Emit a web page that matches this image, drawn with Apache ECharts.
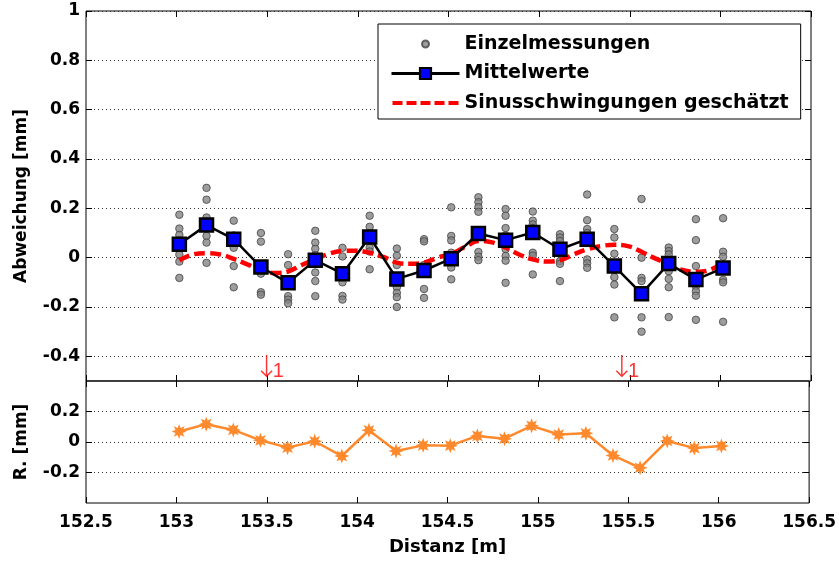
<!DOCTYPE html>
<html>
<head>
<meta charset="utf-8">
<script src="https://cdn.jsdelivr.net/npm/echarts@6/dist/echarts.min.js"></script>
<style>
  html, body { margin: 0; padding: 0; background: #fff; }
  #chart { width: 839px; height: 564px; }
</style>
</head>
<body>
<div id="chart"></div>
<script>
// Measuring stations along the track [m]
const positions = [153.015, 153.165, 153.315, 153.465, 153.615, 153.765, 153.915,
  154.065, 154.215, 154.365, 154.515, 154.665, 154.815, 154.965, 155.115, 155.265,
  155.415, 155.565, 155.715, 155.865, 156.015];

// Individual readings at each station [mm]
const singleReadings = [
  [0.174, 0.118, 0.092, 0.07, 0.013, -0.016, -0.082],
  [0.283, 0.235, 0.163, 0.13, 0.088, 0.061, -0.021],
  [0.150, 0.09, 0.04, -0.034, -0.12],
  [0.10, 0.065, -0.04, -0.065, -0.14, -0.15],
  [0.014, -0.03, -0.09, -0.156, -0.17, -0.185],
  [0.109, 0.061, 0.036, 0.01, -0.06, -0.095, -0.156],
  [0.04, 0.005, -0.065, -0.1, -0.155, -0.17],
  [0.17, 0.125, 0.09, 0.04, 0.025, -0.047],
  [0.037, 0.008, -0.03, -0.085, -0.12, -0.143, -0.16, -0.2],
  [0.075, 0.066, -0.03, -0.052, -0.127, -0.163],
  [0.204, 0.088, 0.07, 0.02, -0.04, -0.088],
  [0.245, 0.225, 0.205, 0.186, 0.023, 0.004, -0.01],
  [0.197, 0.17, 0.12, 0.09, 0.035, 0.007, -0.012, -0.102],
  [0.187, 0.15, 0.135, 0.12, 0.02, 0.009, -0.068],
  [0.095, 0.082, 0.068, 0.03, -0.014, -0.025, -0.095],
  [0.256, 0.152, 0.116, 0.10, -0.007, -0.023, -0.041],
  [0.116, 0.082, 0.016, -0.05, -0.079, -0.109, -0.242],
  [0.238, 0.0, -0.082, -0.095, -0.15, -0.242, -0.3],
  [0.041, 0.027, 0.013, -0.02, -0.055, -0.086, -0.12, -0.241],
  [0.156, 0.071, -0.034, -0.09, -0.116, -0.136, -0.154, -0.252],
  [0.16, 0.024, 0.004, -0.04, -0.09, -0.1, -0.26]
];

// Mean value per station [mm]
const means = [0.054, 0.132, 0.075, -0.038, -0.102, -0.01, -0.065, 0.084, -0.086,
  -0.052, -0.004, 0.098, 0.071, 0.102, 0.034, 0.075, -0.034, -0.146, -0.024, -0.089, -0.042];

// Estimated sine oscillation (stations and half-way points)
const sineX = [153.015, 153.09, 153.165, 153.24, 153.315, 153.39, 153.465, 153.54,
  153.615, 153.69, 153.765, 153.84, 153.915, 153.99, 154.065, 154.14, 154.215, 154.29,
  154.365, 154.44, 154.515, 154.59, 154.665, 154.74, 154.815, 154.89, 154.965, 155.04,
  155.115, 155.19, 155.265, 155.34, 155.415, 155.49, 155.565, 155.64, 155.715, 155.79,
  155.865, 155.94, 156.015];
const sineY = [-0.011, 0.013, 0.018, 0.013, -0.005, -0.027, -0.05, -0.062, -0.056,
  -0.03, -0.007, 0.016, 0.027, 0.028, 0.02, 0.003, -0.02, -0.025, -0.02, 0.0, 0.016,
  0.043, 0.068, 0.062, 0.041, 0.013, -0.007, -0.016, -0.011, 0.013, 0.034, 0.047,
  0.052, 0.047, 0.024, -0.003, -0.027, -0.05, -0.057, -0.05, -0.02];

// Residuals after removing the oscillation [mm]
const residuals = [0.069, 0.117, 0.079, 0.011, -0.037, 0.005, -0.092, 0.077, -0.059,
  -0.022, -0.024, 0.04, 0.022, 0.106, 0.049, 0.057, -0.088, -0.169, 0.007, -0.04, -0.026];

// Marked positions
const markX = [153.5, 155.46];
const markText = ['1', '1'];

// Axis ticks
const upperTicks = [-0.4, -0.2, 0, 0.2, 0.4, 0.6, 0.8, 1];
const lowerTicks = [-0.2, 0, 0.2];

const FONT = 'DejaVu Sans';
const labelStyle = { color: '#000', fontFamily: FONT, fontWeight: 'bold', fontSize: 17 };
const nameStyle = { color: '#000', fontFamily: FONT, fontWeight: 'bold', fontSize: 17 };

function asteriskPath() {
  let d = '';
  for (let k = 0; k < 16; k++) {
    const a = k * Math.PI / 8;
    const r = k % 2 === 0 ? 10 : 5.2;
    d += (k ? 'L' : 'M') + (10 + r * Math.sin(a)).toFixed(2) + ',' + (10 - r * Math.cos(a)).toFixed(2);
  }
  return 'path://' + d + 'Z';
}

const dotIcon = 'path://M0,0M68,14M30.5,7a3.5,3.5 0 1,0 7,0a3.5,3.5 0 1,0 -7,0z';
const dashIcon = 'path://M0,0M68,14M1,5h10v4h-10zM15,5h10v4h-10zM29,5h10v4h-10zM43,5h10v4h-10zM57,5h10v4h-10z';

const scatterData = [];
singleReadings.forEach((arr, i) => arr.forEach(v => scatterData.push([positions[i], v])));

function xAx(gridIndex, position, showLabels) {
  return {
    type: 'value', gridIndex, position, min: 152.5, max: 156.5, interval: 0.5,
    axisLine: { show: false, onZero: false },
    axisTick: { show: true, inside: true, length: 6, lineStyle: { color: '#000' } },
    axisLabel: Object.assign({ show: showLabels, margin: 11 }, labelStyle),
    splitLine: { show: false }
  };
}
function yAx(gridIndex, position, min, max, ticks, showLabels, name) {
  return {
    type: 'value', gridIndex, position, min, max,
    name: name || '', nameLocation: 'middle', nameGap: 56, nameTextStyle: nameStyle,
    axisLine: { show: false, onZero: false },
    axisTick: { show: true, inside: true, length: 6, customValues: ticks, lineStyle: { color: '#000' } },
    axisLabel: Object.assign({ show: showLabels, margin: 6, customValues: ticks }, labelStyle),
    splitLine: { show: showLabels, lineStyle: { color: '#333', type: [1, 3], width: 1 } }
  };
}

const chart = echarts.init(document.getElementById('chart'), null, { renderer: 'canvas' });
chart.setOption({
  animation: false,
  backgroundColor: '#fff',
  grid: [
    { left: 86, right: 28, top: 11, height: 370, show: true, borderColor: '#000', borderWidth: 1, backgroundColor: 'transparent' },
    { left: 86, right: 28, top: 381, height: 122, show: true, borderColor: '#000', borderWidth: 1, backgroundColor: 'transparent' }
  ],
  xAxis: [
    xAx(0, 'bottom', false),
    xAx(0, 'top', false),
    Object.assign(xAx(1, 'bottom', true), {
      name: 'Distanz [m]', nameLocation: 'middle', nameGap: 35,
      nameTextStyle: Object.assign({}, nameStyle, { fontSize: 18 })
    }),
    xAx(1, 'top', false)
  ],
  yAxis: [
    yAx(0, 'left', -0.5, 1, upperTicks, true, 'Abweichung [mm]'),
    yAx(0, 'right', -0.5, 1, upperTicks, false),
    yAx(1, 'left', -0.4, 0.4, lowerTicks, true, 'R. [mm]'),
    yAx(1, 'right', -0.4, 0.4, lowerTicks, false)
  ],
  legend: {
    data: [
      { name: 'Einzelmessungen', icon: dotIcon },
      { name: 'Mittelwerte', lineStyle: { width: 3 } },
      { name: 'Sinusschwingungen geschätzt', icon: dashIcon }
    ],
    orient: 'vertical', left: 378, top: 24, padding: [10, 12, 6, 12],
    itemWidth: 68, itemHeight: 14, itemGap: 9.5,
    backgroundColor: '#fff', borderColor: '#000', borderWidth: 1, borderRadius: 0,
    textStyle: { color: '#000', fontFamily: FONT, fontWeight: 'bold', fontSize: 19, lineHeight: 20 },
    selectedMode: false
  },
  series: [
    {
      name: 'Einzelmessungen', type: 'scatter', xAxisIndex: 0, yAxisIndex: 0,
      data: scatterData, symbol: 'circle', symbolSize: 7.5, z: 2,
      itemStyle: { color: '#858585', borderColor: '#444', borderWidth: 1 }
    },
    {
      name: 'Sinusschwingungen geschätzt', type: 'line', xAxisIndex: 0, yAxisIndex: 0,
      data: sineX.map((x, i) => [x, sineY[i]]), smooth: 0.4, showSymbol: false, symbol: 'none', z: 3,
      itemStyle: { color: '#ff0000' },
      lineStyle: { color: '#ff0000', width: 4.5, type: [11, 5] }
    },
    {
      name: 'Mittelwerte', type: 'line', xAxisIndex: 0, yAxisIndex: 0,
      data: positions.map((x, i) => [x, means[i]]), symbol: 'rect', symbolSize: 13, z: 4,
      itemStyle: { color: '#0000ff', borderColor: '#000', borderWidth: 2.5 },
      lineStyle: { color: '#000', width: 2.5 }
    },
    {
      name: 'Residuen', type: 'line', xAxisIndex: 2, yAxisIndex: 2,
      data: positions.map((x, i) => [x, residuals[i]]), symbol: asteriskPath(), symbolSize: 15,
      itemStyle: { color: '#ff8a2e' }, lineStyle: { color: '#ff8a2e', width: 2.5 }
    },
    {
      name: 'Marken', type: 'scatter', xAxisIndex: 0, yAxisIndex: 0, silent: true, clip: false,
      data: markX.map((x, i) => ({ value: [x, -0.5], label: { formatter: '{a|\u2193}{b|' + markText[i] + '}' } })),
      symbolSize: 1, itemStyle: { color: 'rgba(0,0,0,0)' }, z: 5,
      label: {
        show: true, position: 'top', distance: 0, offset: [5, 4], color: '#ff0000',
        rich: {
          a: { color: '#ff0000', fontFamily: 'DejaVu Sans', fontWeight: 'lighter', fontSize: 30, width: 12, align: 'center', verticalAlign: 'bottom' },
          b: { color: '#ff0000', fontFamily: 'Liberation Sans', fontSize: 20, verticalAlign: 'bottom', padding: [0, 0, 3, 0] }
        }
      }
    }
  ]
});
</script>
</body>
</html>
